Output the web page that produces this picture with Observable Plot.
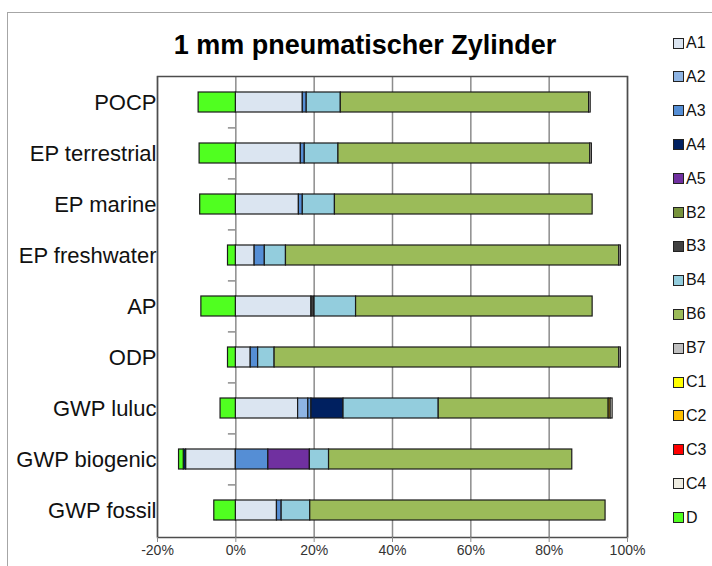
<!DOCTYPE html>
<html>
<head>
<meta charset="utf-8">
<script src="https://cdn.jsdelivr.net/npm/d3@7"></script>
<script src="https://cdn.jsdelivr.net/npm/@observablehq/plot@0.6"></script>
<style>
  body { margin: 0; background: #fff; font-family: "Liberation Sans", Arial, sans-serif; }
  #wrap { position: relative; width: 712px; height: 566px; overflow: hidden; background: #fff; }
  #border { position: absolute; left: 7px; top: 12px; width: 760px; height: 620px; border: 1.5px solid #a6a6a6; box-sizing: border-box; }
  #chart { position: absolute; left: 0; top: 0; }
  #title { position: absolute; left: 0; width: 730px; top: 28px; text-align: center; font-weight: bold; font-size: 27px; color: #000; line-height: 34px; }
  #legend { position: absolute; left: 673px; top: 0; }
  .item { position: absolute; left: 0; display: flex; align-items: center; font-size: 16px; color: #111; white-space: nowrap; height: 18px; }
  .sw { width: 9px; height: 9px; border: 1px solid #222; margin-right: 2px; flex: none; }
</style>
</head>
<body>
<div id="wrap">
  <div id="border"></div>
  <div id="chart"></div>
  <div id="title">1 mm pneumatischer Zylinder</div>
  <div id="legend"></div>
</div>
<script>
const categories = ["POCP", "EP terrestrial", "EP marine", "EP freshwater", "AP", "ODP", "GWP luluc", "GWP biogenic", "GWP fossil"];
const series = ["A1", "A2", "A3", "A4", "A5", "B2", "B3", "B4", "B6", "B7", "C1", "C2", "C3", "C4", "D"];
const colors = ["#DBE5F1", "#8EB4E3", "#558ED5", "#002060", "#7030A0", "#77933C", "#404040", "#93CDDD", "#9BBB59", "#BFBFBF", "#FFFF00", "#FFC000", "#FF0000", "#EEECE1", "#50FF20"];
const xTicks = [-20, 0, 20, 40, 60, 80, 100];

// values in % per category (same order as categories)
const A1 = [17.1, 16.6, 16.1, 4.8, 19.3, 3.8, 15.9, -12.7, 10.5];
const A2 = [0, 0, 0, 0, 0, 0, 2.6, 0, 0];
const A3 = [1.0, 1.0, 1.0, 2.6, 0, 1.9, 0.8, 8.3, 1.2];
const A4 = [0, 0, 0, 0, 0, 0, 8.2, -0.6, 0];
const A5 = [0, 0, 0, 0, 0, 0, 0, 10.6, 0];
const B2 = [0, 0, 0, 0, 0, 0, 0, 0, 0];
const B3 = [0, 0, 0, 0, 0.8, 0, 0, 0, 0];
const B4 = [8.7, 8.6, 8.2, 5.4, 10.6, 4.2, 24.3, 4.9, 7.3];
const B6 = [63.4, 64.3, 65.8, 85.1, 60.4, 88.0, 43.4, 62.1, 75.4];
const B7 = [0, 0, 0, 0, 0, 0, 0, 0, 0];
const C1 = [0, 0, 0, 0, 0, 0, 0, 0, 0];
const C2 = [0, 0, 0, 0, 0, 0, 0.5, 0, 0];
const C3 = [0, 0, 0, 0, 0, 0, 0, 0, 0];
const C4 = [0.4, 0.4, 0, 0.4, 0, 0.4, 0.5, 0, 0];
const D  = [-9.5, -9.25, -9.1, -2.0, -8.8, -2.0, -3.9, -1.2, -5.5];

const valuesBySeries = {A1, A2, A3, A4, A5, B2, B3, B4, B6, B7, C1, C2, C3, C4, D};

const rows = [];
for (const s of series) {
  valuesBySeries[s].forEach((v, i) => {
    if (v !== 0) rows.push({category: categories[i], series: s, value: v});
  });
}

const W = 712, H = 566, mTop = 76, mBottom = 29, mLeft = 157, mRight = 85;
const halfStep = (H - mTop - mBottom) / categories.length / 2;

const chart = Plot.plot({
  width: W,
  height: H,
  marginTop: mTop,
  marginBottom: mBottom,
  marginLeft: mLeft,
  marginRight: mRight,
  style: {fontFamily: "'Liberation Sans', Arial, sans-serif", background: "transparent", overflow: "visible"},
  x: {domain: [-20, 100]},
  y: {domain: categories, paddingInner: 0.6, paddingOuter: 0.3},
  color: {domain: series, range: colors},
  marks: [
    Plot.gridX(xTicks, {stroke: "#8c8c8c", strokeOpacity: 1, strokeWidth: 1.5}),
    Plot.ruleY(categories.slice(1), {x1: -1.9, x2: 0, dy: -halfStep, stroke: "#8c8c8c", strokeWidth: 1.5}),
    Plot.frame({stroke: "#4d4d4d", strokeWidth: 1.5}),
    Plot.barX(rows, Plot.stackX({
      x: "value", y: "category", fill: "series", order: series,
      stroke: "#1a1a1a", strokeWidth: 1.2
    })),
    Plot.axisX(xTicks, {
      anchor: "bottom", tickSize: 5, tickPadding: 3, stroke: "#8c8c8c",
      tickFormat: d => d + "%", fontSize: 14, fill: "#333", label: null
    }),
    Plot.axisY({anchor: "left", tickSize: 0, tickPadding: 1, fontSize: 22, fill: "#111", label: null})
  ]
});
document.getElementById("chart").appendChild(chart);

const legend = document.getElementById("legend");
series.forEach((s, i) => {
  const it = document.createElement("div");
  it.className = "item";
  it.style.top = (43 + i * 33.9 - 9) + "px";
  const sw = document.createElement("span");
  sw.className = "sw";
  sw.style.background = colors[i];
  const t = document.createElement("span");
  t.textContent = s;
  it.appendChild(sw);
  it.appendChild(t);
  legend.appendChild(it);
});
</script>
</body>
</html>
